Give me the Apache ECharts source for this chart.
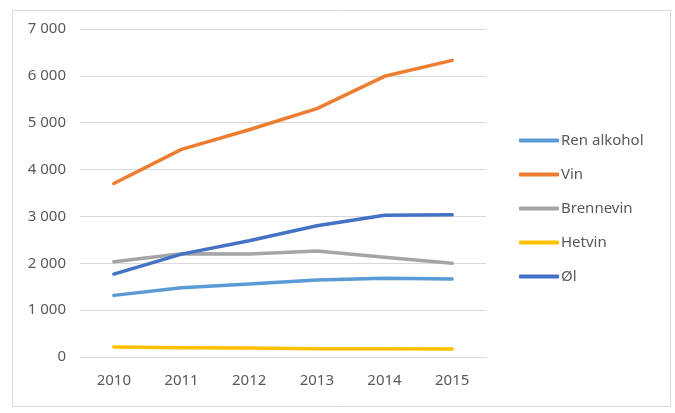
<!DOCTYPE html>
<html>
<head>
<meta charset="utf-8">
<script src="https://cdn.jsdelivr.net/npm/echarts@6/dist/echarts.min.js"></script>
<style>
  html, body { margin: 0; padding: 0; background: #fff; }
  #chart { width: 675px; height: 413px; }
</style>
</head>
<body>
<div id="chart"></div>
<script>
// years on the x axis
const years = ["2010", "2011", "2012", "2013", "2014", "2015"];

// series values
const renAlkohol = [1315, 1478, 1556, 1642, 1678, 1663];
const vin = [3704, 4430, 4850, 5300, 5990, 6330];
const brennevin = [2035, 2205, 2200, 2260, 2130, 2000];
const hetvin = [213, 199, 192, 177, 175, 170];
const ol = [1770, 2196, 2480, 2800, 3025, 3034];

const seriesNames = ["Ren alkohol", "Vin", "Brennevin", "Hetvin", "Øl"];
const seriesData = [renAlkohol, vin, brennevin, hetvin, ol];
const colors = ["#5B9BD5", "#ED7D31", "#A5A5A5", "#FFC000", "#4472C4"];

const chart = echarts.init(document.getElementById("chart"));

const font = "'Noto Sans', sans-serif";

const option = {
  animation: false,
  color: colors,
  graphic: [
    {
      type: "rect",
      left: 10,
      top: 8,
      shape: { width: 658, height: 396 },
      style: { fill: "none", stroke: "#d9d9d9", lineWidth: 1 },
      silent: true,
    },
  ],
  grid: {
    left: 80,
    right: 189,
    top: 29,
    bottom: 56,
  },
  legend: {
    orient: "vertical",
    left: 514,
    top: 128,
    itemWidth: 40,
    itemHeight: 4,
    itemGap: 19,
    icon: "roundRect",
    textStyle: {
      color: "#595959",
      fontSize: 15,
      fontFamily: font,
      padding: [0, 0, 0, -3],
    },
    data: seriesNames,
  },
  xAxis: {
    type: "category",
    data: years,
    boundaryGap: true,
    axisLine: { lineStyle: { color: "#d9d9d9", width: 1 } },
    axisTick: { show: false },
    axisLabel: {
      color: "#595959",
      fontSize: 15,
      fontFamily: font,
      margin: 16,
    },
  },
  yAxis: {
    type: "value",
    min: 0,
    max: 7000,
    interval: 1000,
    axisLine: { show: false },
    axisTick: { show: false },
    splitLine: { lineStyle: { color: "#d9d9d9", width: 1 } },
    axisLabel: {
      color: "#595959",
      fontSize: 15,
      fontFamily: font,
      margin: 14,
      formatter: function (v) {
        return String(v).replace(/\B(?=(\d{3})+(?!\d))/g, " ");
      },
    },
  },
  series: seriesNames.map(function (name, i) {
    return {
      name: name,
      type: "line",
      data: seriesData[i],
      symbol: "none",
      lineStyle: { width: 3.5, cap: "round", join: "round" },
    };
  }),
};

chart.setOption(option);
</script>
</body>
</html>
